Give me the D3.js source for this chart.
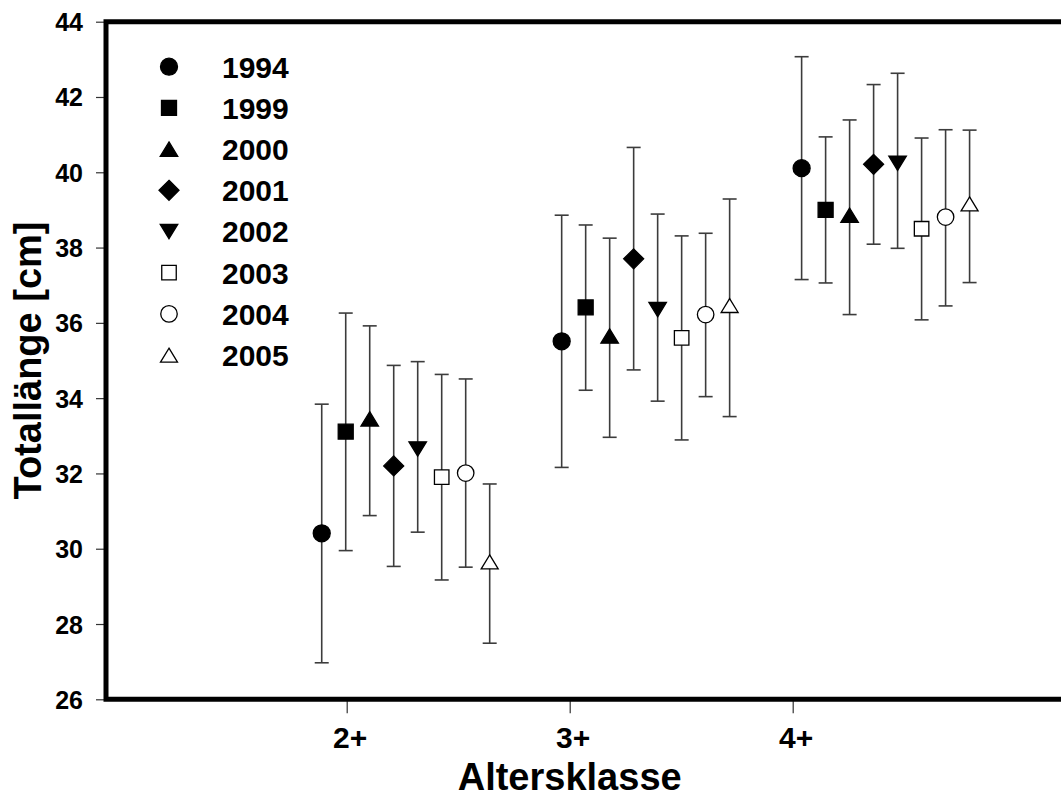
<!DOCTYPE html>
<html>
<head>
<meta charset="utf-8">
<script src="https://cdn.jsdelivr.net/npm/d3@7"></script>
<style>
  body { margin: 0; background: #fff; }
  svg text { font-family: "Liberation Sans", Arial, Helvetica, sans-serif; font-weight: bold; fill: #000; }
</style>
</head>
<body>
<svg id="chart" width="1061" height="798"></svg>
<script>
//-------------------------DATA-------------------------------------------------------

var ageClasses = ['2+', '3+', '4+'];
var ageTicks = [2, 3, 4];

var years = ['1994', '1999', '2000', '2001', '2002', '2003', '2004', '2005'];

// x position of each year's first point in every age class (axis units)
var groupStart = [1.888, 2.964, 4.040];
var yearStep = 0.1076;

// mean total length per year, one value per age class
var mean1994 = [30.41, 35.51, 40.11];
var mean1999 = [33.11, 36.41, 39.00];
var mean2000 = [33.45, 35.65, 38.86];
var mean2001 = [32.20, 37.70, 40.21];
var mean2002 = [32.65, 36.35, 40.24];
var mean2003 = [31.90, 35.60, 38.50];
var mean2004 = [32.01, 36.22, 38.81];
var mean2005 = [29.65, 36.46, 39.16];

// lower / upper end of the error bars
var low1994 = [26.97, 32.16, 37.15];
var low1999 = [29.95, 34.21, 37.06];
var low2000 = [30.88, 32.96, 36.22];
var low2001 = [29.53, 34.75, 38.09];
var low2002 = [30.44, 33.92, 37.98];
var low2003 = [29.17, 32.89, 36.08];
var low2004 = [29.51, 34.04, 36.45];
var low2005 = [27.49, 33.51, 37.07];

var high1994 = [33.84, 38.86, 43.07];
var high1999 = [36.26, 38.60, 40.94];
var high2000 = [35.92, 38.25, 41.39];
var high2001 = [34.87, 40.66, 42.33];
var high2002 = [34.97, 38.89, 42.63];
var high2003 = [34.63, 38.31, 40.91];
var high2004 = [34.51, 38.38, 41.13];
var high2005 = [31.72, 39.29, 41.12];

var yTicks = [26, 28, 30, 32, 34, 36, 38, 40, 42, 44];

var means = [mean1994, mean1999, mean2000, mean2001, mean2002, mean2003, mean2004, mean2005];
var lows = [low1994, low1999, low2000, low2001, low2002, low2003, low2004, low2005];
var highs = [high1994, high1999, high2000, high2001, high2002, high2003, high2004, high2005];

//-------------------------SYMBOLS (sigmaplot style)---------------------------------
// size here is the symbol width in px, not the area

var triUp = { draw: function (ctx, s) { var h = s * 0.82; ctx.moveTo(0, -h / 2); ctx.lineTo(s / 2, h / 2); ctx.lineTo(-s / 2, h / 2); ctx.closePath(); } };
var triDown = { draw: function (ctx, s) { var h = s * 0.82; ctx.moveTo(0, h / 2); ctx.lineTo(s / 2, -h / 2); ctx.lineTo(-s / 2, -h / 2); ctx.closePath(); } };
var diamond = { draw: function (ctx, s) { ctx.moveTo(0, -s / 2); ctx.lineTo(s / 2, 0); ctx.lineTo(0, s / 2); ctx.lineTo(-s / 2, 0); ctx.closePath(); } };
var square = { draw: function (ctx, s) { ctx.rect(-s / 2, -s / 2, s, s); } };
var circle = { draw: function (ctx, s) { ctx.moveTo(s / 2, 0); ctx.arc(0, 0, s / 2, 0, 2 * Math.PI); } };

var styles = [
  { type: circle, size: 17, fill: '#000' },
  { type: square, size: 15, fill: '#000' },
  { type: triUp, size: 17.5, fill: '#000' },
  { type: diamond, size: 20, fill: '#000' },
  { type: triDown, size: 17.5, fill: '#000' },
  { type: square, size: 14.5, fill: '#fff' },
  { type: circle, size: 16.5, fill: '#fff' },
  { type: triUp, size: 17, fill: '#fff' }
];

//-------------------------SCALES---------------------------------

var svg = d3.select('#chart');
// note: "top" is taken by window.top, so plot edges get their own names
var plotLeft = 106, plotTop = 21.7, plotBottom = 699.3, plotRight = 1061;

var x = d3.scaleLinear().domain([2, 4]).range([346.7, 792.7]);
var y = d3.scaleLinear().domain([26, 44]).range([plotBottom, plotTop]);

function sym(i) {
  return d3.symbol().type(styles[i].type).size(styles[i].size)();
}

//-------------------------AXES---------------------------------

var yAxis = svg.append('g')
  .attr('transform', 'translate(' + plotLeft + ',0)')
  .call(d3.axisLeft(y).tickValues(yTicks).tickSize(10).tickPadding(13).tickFormat(d3.format('d')));
yAxis.select('.domain').remove();
yAxis.selectAll('line').attr('stroke', '#333').attr('stroke-width', 1.2);
yAxis.selectAll('text').style('font-size', '25px').attr('dy', '0.36em');

var xAxis = svg.append('g')
  .attr('transform', 'translate(0,' + plotBottom + ')')
  .call(d3.axisBottom(x).tickValues(ageTicks).tickSize(14).tickPadding(13).tickFormat(function (d, i) { return ageClasses[i]; }));
xAxis.select('.domain').remove();
xAxis.selectAll('line').attr('stroke', '#333').attr('stroke-width', 1.2);
xAxis.selectAll('text').style('font-size', '30px').attr('dx', 3);

// frame: left, top and bottom lines (the right edge is cut off in the original)
svg.append('path')
  .attr('d', 'M' + plotRight + ',' + plotTop + 'H' + plotLeft + 'V' + plotBottom + 'H' + plotRight)
  .attr('fill', 'none')
  .attr('stroke', '#000')
  .attr('stroke-width', 5)
  .attr('stroke-linejoin', 'miter');

svg.append('text')
  .attr('x', x(3))
  .attr('y', 789.5)
  .attr('text-anchor', 'middle')
  .style('font-size', '38px')
  .text('Altersklasse');

svg.append('text')
  .attr('transform', 'translate(41,' + (plotTop + plotBottom) / 2 + ') rotate(-90)')
  .attr('text-anchor', 'middle')
  .style('font-size', '38px')
  .text('Totallänge [cm]');

//-------------------------ERROR BARS + POINTS---------------------------------

var points = [];
years.forEach(function (yr, i) {
  ageClasses.forEach(function (a, g) {
    points.push({ s: i, xv: groupStart[g] + i * yearStep, m: means[i][g], lo: lows[i][g], hi: highs[i][g] });
  });
});

var bars = svg.append('g').selectAll('g')
  .data(points)
  .enter()
  .append('g')
  .attr('stroke', '#3c3c3c')
  .attr('stroke-width', 1.6);

bars.append('line')
  .attr('x1', function (d) { return x(d.xv); })
  .attr('x2', function (d) { return x(d.xv); })
  .attr('y1', function (d) { return y(d.lo); })
  .attr('y2', function (d) { return y(d.hi); });

bars.append('line')
  .attr('x1', function (d) { return x(d.xv) - 7; })
  .attr('x2', function (d) { return x(d.xv) + 7; })
  .attr('y1', function (d) { return y(d.lo); })
  .attr('y2', function (d) { return y(d.lo); });

bars.append('line')
  .attr('x1', function (d) { return x(d.xv) - 7; })
  .attr('x2', function (d) { return x(d.xv) + 7; })
  .attr('y1', function (d) { return y(d.hi); })
  .attr('y2', function (d) { return y(d.hi); });

svg.append('g').selectAll('path')
  .data(points)
  .enter()
  .append('path')
  .attr('d', function (d) { return sym(d.s); })
  .attr('transform', function (d) { return 'translate(' + x(d.xv) + ',' + y(d.m) + ')'; })
  .attr('fill', function (d) { return styles[d.s].fill; })
  .attr('stroke', '#000')
  .attr('stroke-width', 1.3);

//-------------------------LEGEND---------------------------------

var legend = svg.append('g').selectAll('g')
  .data(years)
  .enter()
  .append('g')
  .attr('transform', function (d, i) { return 'translate(169,' + (66.7 + i * 41.2) + ')'; });

legend.append('path')
  .attr('d', function (d, i) { return sym(i); })
  .attr('fill', function (d, i) { return styles[i].fill; })
  .attr('stroke', '#000')
  .attr('stroke-width', 1.3);

legend.append('text')
  .attr('x', 53)
  .attr('dy', '0.36em')
  .style('font-size', '30px')
  .text(function (d) { return d; });
</script>
</body>
</html>
